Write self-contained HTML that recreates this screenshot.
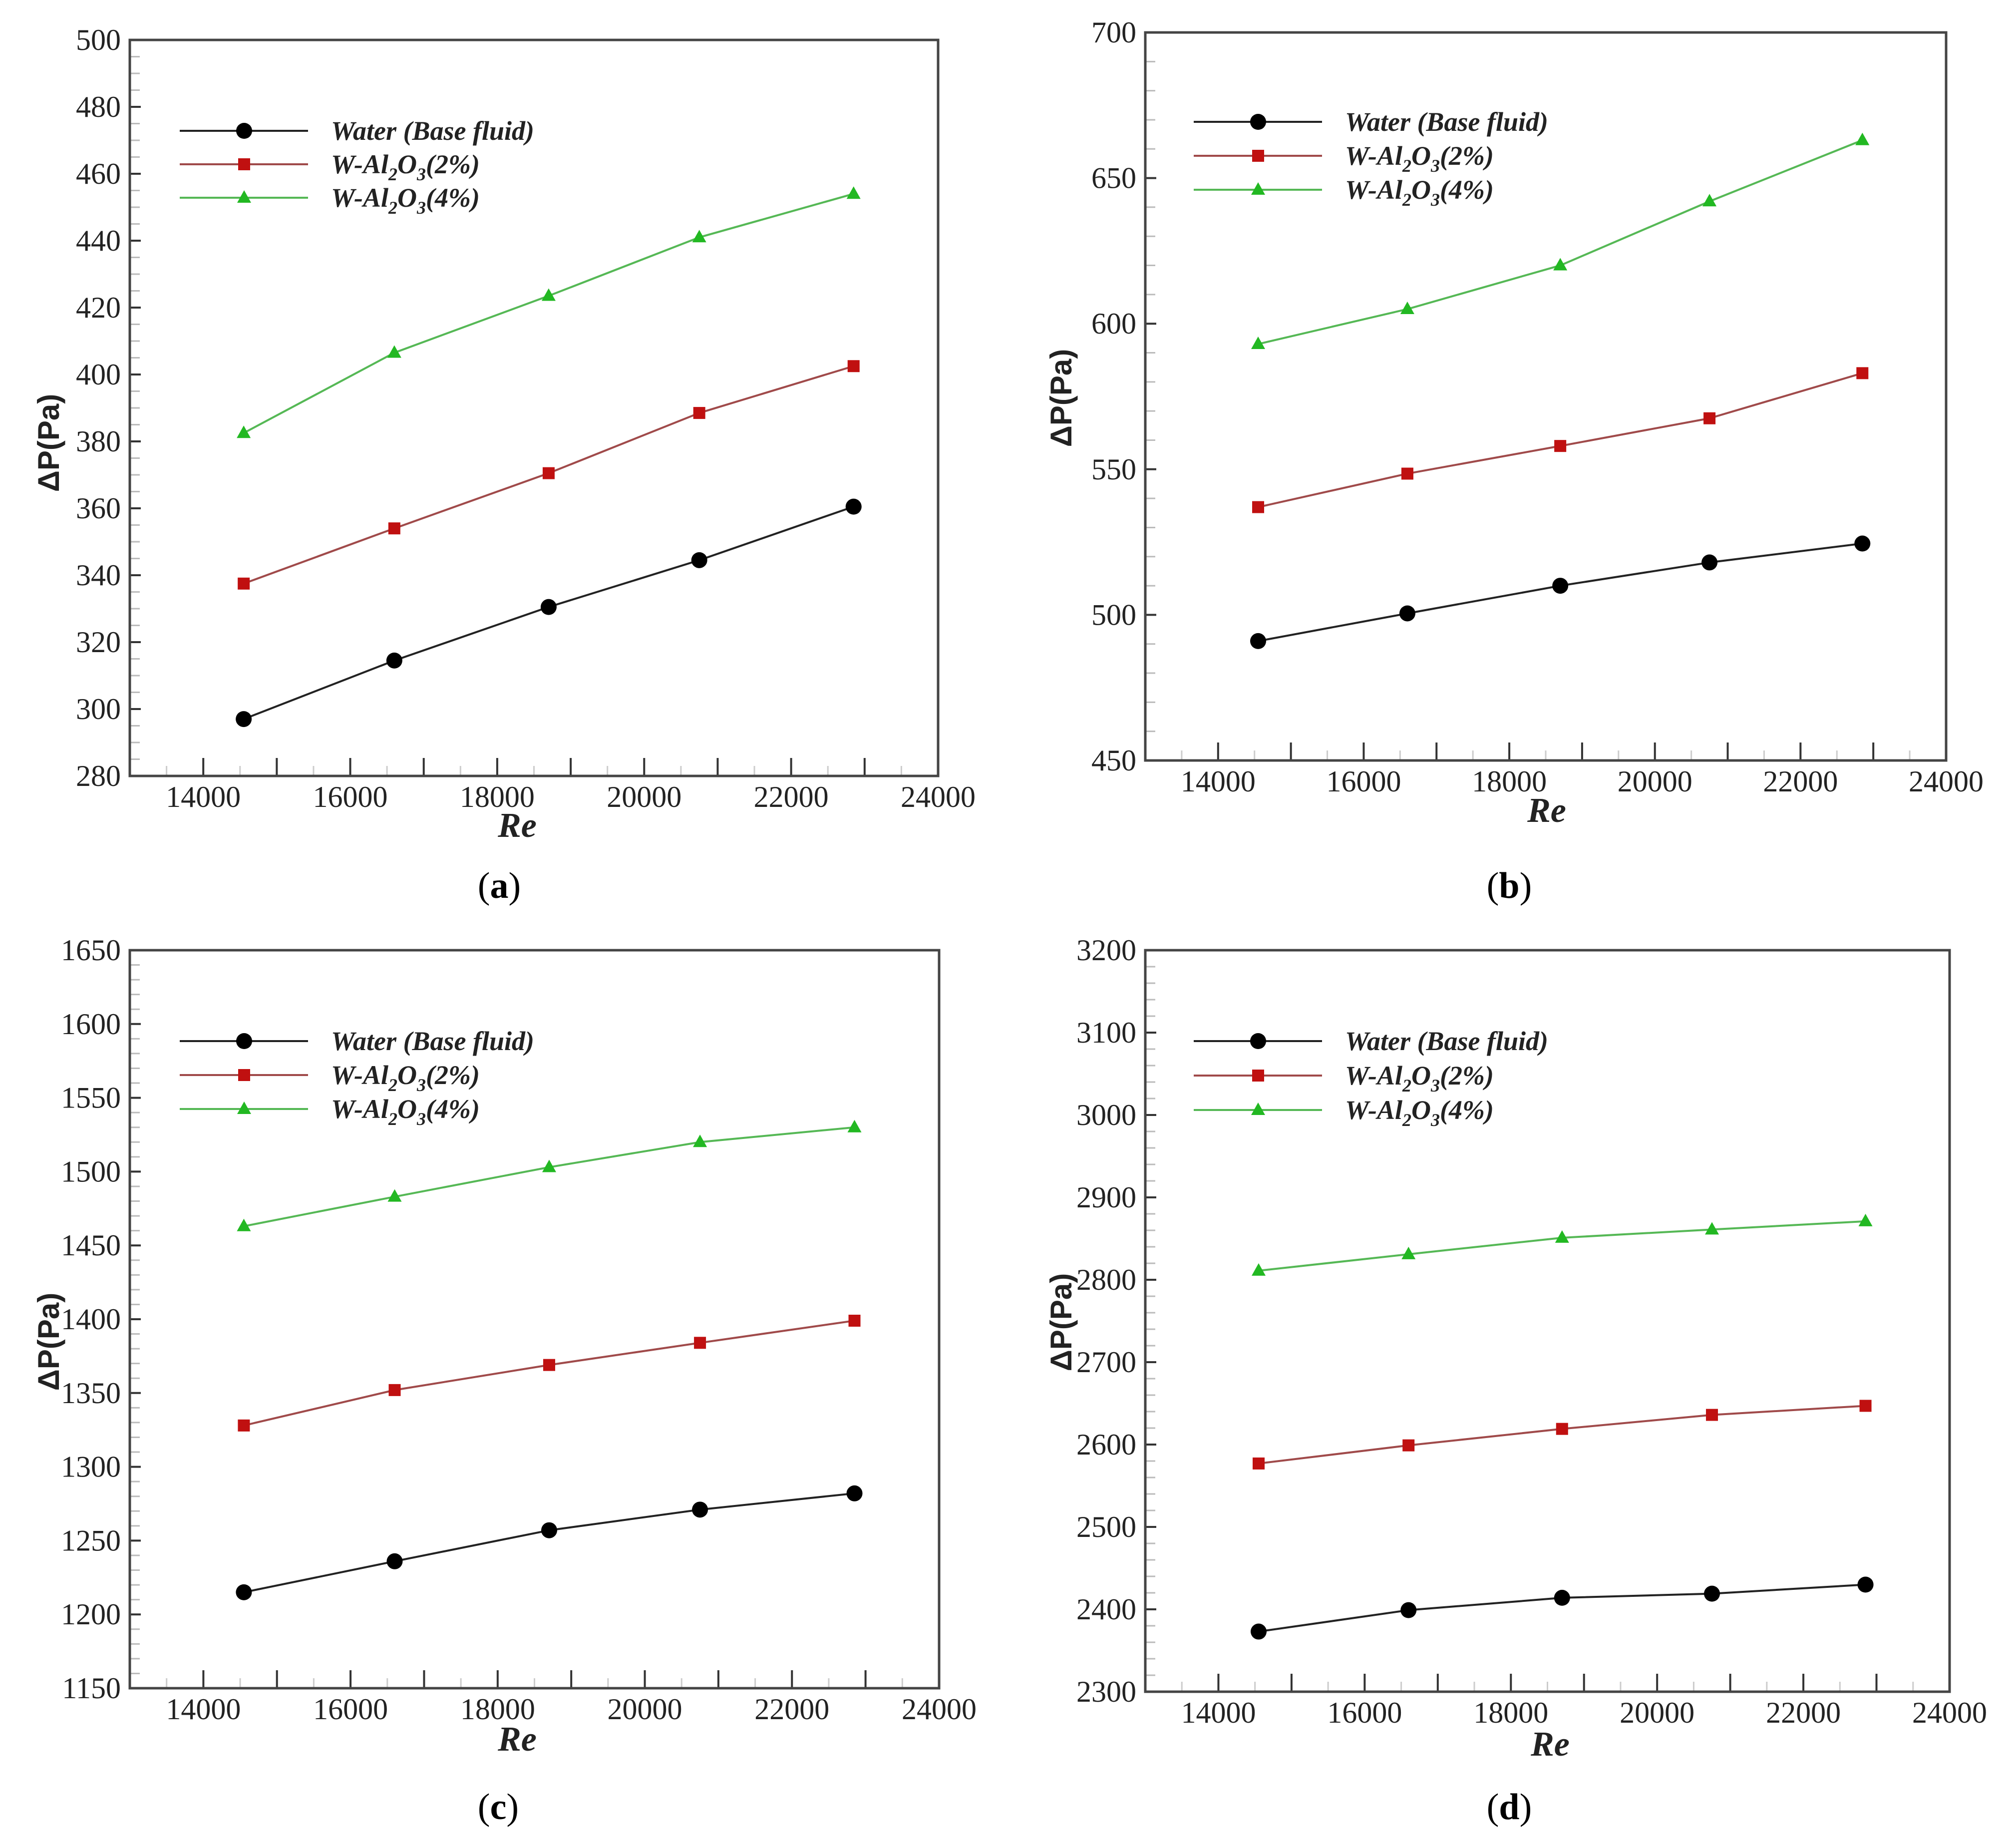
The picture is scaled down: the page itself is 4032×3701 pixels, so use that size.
<!DOCTYPE html>
<html><head><meta charset="utf-8">
<style>
html,body{margin:0;padding:0;background:#fff;}
svg{display:block;}
.tick{font-family:"Liberation Serif",serif;font-size:60px;fill:#222;}
.ylab{font-family:"Liberation Sans",sans-serif;font-weight:bold;font-size:60px;fill:#222;}
.xlab{font-family:"Liberation Serif",serif;font-weight:bold;font-style:italic;font-size:70px;fill:#222;}
.leg{font-family:"Liberation Serif",serif;font-weight:bold;font-style:italic;font-size:54px;fill:#222;}
.sub{font-family:"Liberation Serif",serif;font-size:74px;fill:#000;}
</style></head>
<body>
<svg id="fig" width="4032" height="3701" viewBox="0 0 4032 3701" xmlns="http://www.w3.org/2000/svg"></svg>
<script>
// Shared x data (Reynolds number)
const reValues = [14550, 16600, 18700, 20750, 22850];
const xTicks = [14000, 16000, 18000, 20000, 22000, 24000];
const seriesNames = ["Water (Base fluid)", "W-Al2O3(2%)", "W-Al2O3(4%)"];
// Panel (a)
const aWater = [297, 314.5, 330.5, 344.5, 360.5];
const aAl2 = [337.5, 354, 370.5, 388.5, 402.5];
const aAl4 = [382.5, 406.5, 423.5, 441, 454];
const aYTicks = [280, 300, 320, 340, 360, 380, 400, 420, 440, 460, 480, 500];
// Panel (b)
const bWater = [491, 500.5, 510, 518, 524.5];
const bAl2 = [537, 548.5, 558, 567.5, 583];
const bAl4 = [593, 605, 620, 642, 663];
const bYTicks = [450, 500, 550, 600, 650, 700];
// Panel (c)
const cWater = [1215, 1236, 1257, 1271, 1282];
const cAl2 = [1328, 1352, 1369, 1384, 1399];
const cAl4 = [1463, 1483, 1503, 1520, 1530];
const cYTicks = [1150, 1200, 1250, 1300, 1350, 1400, 1450, 1500, 1550, 1600, 1650];
// Panel (d)
const dWater = [2373, 2399, 2414, 2419, 2430];
const dAl2 = [2577, 2599, 2619, 2636, 2647];
const dAl4 = [2811, 2831, 2851, 2861, 2871];
const dYTicks = [2300, 2400, 2500, 2600, 2700, 2800, 2900, 3000, 3100, 3200];

const NS = "http://www.w3.org/2000/svg";
const svg = document.getElementById("fig");
function mk(tag, attrs, parent) {
  const e = document.createElementNS(NS, tag);
  for (const k in attrs) e.setAttribute(k, attrs[k]);
  (parent || svg).appendChild(e);
  return e;
}

const panels = [
  {id:"a", box:[260,80,1879,1554], yt:aYTicks, yminor:5, data:[aWater,aAl2,aAl4], leg:[360,262,67,663], re:[1036,1676], yl:[118,887], sub:[1000,1798]},
  {id:"b", box:[2294,65,3898,1523], yt:bYTicks, yminor:10, data:[bWater,bAl2,bAl4], leg:[2391,244,68,2694], re:[3098,1646], yl:[2146,797], sub:[3023,1798]},
  {id:"c", box:[260,1903,1881,3381], yt:cYTicks, yminor:10, data:[cWater,cAl2,cAl4], leg:[360,2085,68,663], re:[1036,3506], yl:[118,2687], sub:[998,3643]},
  {id:"d", box:[2294,1903,3905,3388], yt:dYTicks, yminor:20, data:[dWater,dAl2,dAl4], leg:[2391,2085,69,2694], re:[3105,3516], yl:[2146,2648], sub:[3023,3643]}
];
const lineColors = ["#222", "#a04a4a", "#55b855"];
const markColors = ["#000", "#c01010", "#22b822"];

function marker(g, k, x, y) {
  let m;
  if (k === 0) m = mk("circle", {cx:x, cy:y, r:16, fill:markColors[0]}, g);
  else if (k === 1) m = mk("rect", {x:x-12, y:y-12, width:24, height:24, fill:markColors[1]}, g);
  else m = mk("polygon", {points:`${x},${y-15} ${x+14},${y+10} ${x-14},${y+10}`, fill:markColors[2]}, g);
  return m;
}

panels.forEach(p => {
  const [x0,y0,x1,y1] = p.box;
  const g = mk("g", {});
  
  
  const ymin = p.yt[0], ymax = p.yt[p.yt.length-1];
  const sx = v => x0 + (v - 13000) / (24000 - 13000) * (x1 - x0);
  const sy = v => y1 - (v - ymin) / (ymax - ymin) * (y1 - y0);
  for (let v = ymin; v <= ymax; v += p.yminor) {
    mk("line", {x1:x0, x2:x0+20, y1:sy(v), y2:sy(v), stroke:"#bbb", "stroke-width":3}, g);
  }
  p.yt.forEach(v => {
    mk("line", {x1:x0, x2:x0+22, y1:sy(v), y2:sy(v), stroke:"#333", "stroke-width":4}, g);
    const t = mk("text", {x:x0-18, y:sy(v)+20, "text-anchor":"end", class:"tick"}, g);
    t.textContent = v;
    
    
  });
  for (let v = 13500; v < 24000; v += 500) {
    const major = v % 1000 === 0;
    mk("line", {x1:sx(v), x2:sx(v), y1:y1, y2:y1-(major?36:20), stroke:major?"#333":"#ccc", "stroke-width":major?4:3}, g);
  }
  xTicks.forEach(v => {
    const t = mk("text", {x:sx(v), y:y1+62, "text-anchor":"middle", class:"tick"}, g);
    t.textContent = v;
    
    
  });
  const fr = mk("rect", {x:x0, y:y0, width:x1-x0, height:y1-y0, fill:"none", stroke:"#444", "stroke-width":5}, g);
  
  
  p.data.forEach((arr, k) => {
    const sg = mk("g", {}, g);
    
    
    const pts = arr.map((v,i) => `${sx(reValues[i])},${sy(v)}`).join(" ");
    mk("polyline", {points:pts, fill:"none", stroke:lineColors[k], "stroke-width":4}, sg);
    arr.forEach((v,i) => {
      const m = marker(sg, k, sx(reValues[i]), sy(v));
      
      
    });
  });
  const [lx, ly, ld, tx] = p.leg;
  const lg = mk("g", {}, g);
  
  
  seriesNames.forEach((nm, k) => {
    const yy = ly + k*ld;
    mk("line", {x1:lx, x2:lx+257, y1:yy, y2:yy, stroke:lineColors[k], "stroke-width":4}, lg);
    marker(lg, k, lx+129, yy);
    const t = mk("text", {x:tx, y:yy+18, class:"leg"}, lg);
    
    
    if (k === 0) t.textContent = nm;
    else {
      t.appendChild(document.createTextNode("W-Al"));
      const s1 = mk("tspan", {"font-size":"36", dy:"14"}, t); s1.textContent = "2";
      const s2 = mk("tspan", {dy:"-14"}, t); s2.textContent = "O";
      const s3 = mk("tspan", {"font-size":"36", dy:"14"}, t); s3.textContent = "3";
      const s4 = mk("tspan", {dy:"-14"}, t); s4.textContent = k === 1 ? "(2%)" : "(4%)";
    }
  });
  const xt = mk("text", {x:p.re[0], y:p.re[1], "text-anchor":"middle", class:"xlab"}, g);
  xt.textContent = "Re";
  
  
  const yt = mk("text", {x:p.yl[0], y:p.yl[1], "text-anchor":"middle", class:"ylab", transform:`rotate(-90 ${p.yl[0]} ${p.yl[1]})`}, g);
  yt.textContent = "ΔP(Pa)";
  
  
  const st = mk("text", {x:p.sub[0], y:p.sub[1], "text-anchor":"middle", class:"sub"}, g);
  st.appendChild(document.createTextNode("("));
  const b = mk("tspan", {"font-weight":"bold"}, st); b.textContent = p.id;
  st.appendChild(document.createTextNode(")"));
  
  
});
</script>
</body></html>
